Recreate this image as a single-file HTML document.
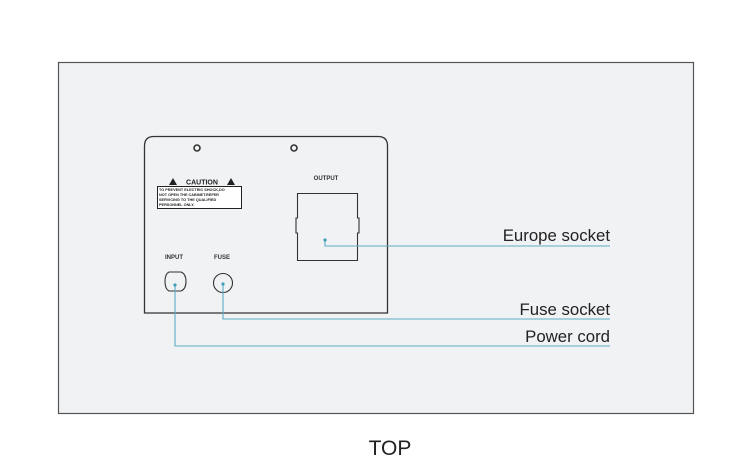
<!DOCTYPE html>
<html><head><meta charset="utf-8"><style>
html,body{margin:0;padding:0;background:#fff;}
svg{display:block;}
</style></head><body>
<svg width="750" height="473" viewBox="0 0 750 473" xmlns="http://www.w3.org/2000/svg" font-family="Liberation Sans, Arial, sans-serif">
<rect x="0" y="0" width="750" height="473" fill="#ffffff"/>
<rect x="58.5" y="62.5" width="635" height="351" fill="#f1f2f4" stroke="#555" stroke-width="1.2"/>
<path d="M144.5,313 L144.5,146 Q144.5,136.5 154,136.5 L378,136.5 Q387.5,136.5 387.5,146 L387.5,313 Z" fill="#f1f2f4" stroke="#333" stroke-width="1.3"/>
<circle cx="197" cy="148" r="3" fill="none" stroke="#333" stroke-width="1.6"/>
<circle cx="294" cy="148" r="3" fill="none" stroke="#333" stroke-width="1.6"/>
<polygon points="169,185 173,178 177,185" fill="#222"/>
<polygon points="227,185 231,178 235,185" fill="#222"/>
<text x="202" y="184.5" font-size="7" font-weight="bold" text-anchor="middle" fill="#222">CAUTION</text>
<rect x="157.5" y="186.5" width="84" height="22" fill="#fff" stroke="#222" stroke-width="1"/>
<text font-size="3.8" font-weight="bold" fill="#222">
<tspan x="159" y="191">TO PREVENT ELECTRIC SHOCK,DO</tspan>
<tspan x="159" y="196">NOT OPEN THE CABINET.REFER</tspan>
<tspan x="159" y="201">SERVICING TO THE QUALIFIED</tspan>
<tspan x="159" y="206">PERSONNEL ONLY.</tspan>
</text>
<text x="326" y="180" font-size="6" font-weight="bold" text-anchor="middle" fill="#333">OUTPUT</text>
<path d="M297.5,193.5 L357.5,193.5 L357.5,218 L359,218 L359,233 L357.5,233 L357.5,260.5 L297.5,260.5 L297.5,233 L296,233 L296,218 L297.5,218 Z" fill="none" stroke="#333" stroke-width="1.1"/>
<text x="174" y="259" font-size="6" font-weight="bold" text-anchor="middle" fill="#333">INPUT</text>
<text x="222" y="259" font-size="6" font-weight="bold" text-anchor="middle" fill="#333">FUSE</text>
<path d="M169,272 L181,272 Q186,274 186,281.5 Q186,289 181,291 L169,291 Q165,289 165,281.5 Q165,274 169,272 Z" fill="none" stroke="#333" stroke-width="1.1"/>
<circle cx="223" cy="283" r="9.5" fill="none" stroke="#333" stroke-width="1.1"/>
<g stroke="#5aaec4" stroke-width="1.1" fill="none">
<polyline points="325,240 325,246 610,246"/>
<polyline points="223,284 223,319 610,319"/>
<polyline points="175,285 175,346 610,346"/>
</g>
<g fill="#3f9fb8"><circle cx="325" cy="240" r="1.6"/><circle cx="223" cy="284" r="1.6"/><circle cx="175" cy="285" r="1.6"/></g>
<g font-size="16.8" fill="#222" text-anchor="end">
<text x="610" y="241">Europe socket</text>
<text x="610" y="315">Fuse socket</text>
<text x="610" y="342">Power cord</text>
</g>
<text x="390" y="455" font-size="21" fill="#222" text-anchor="middle">TOP</text>
</svg>
</body></html>
